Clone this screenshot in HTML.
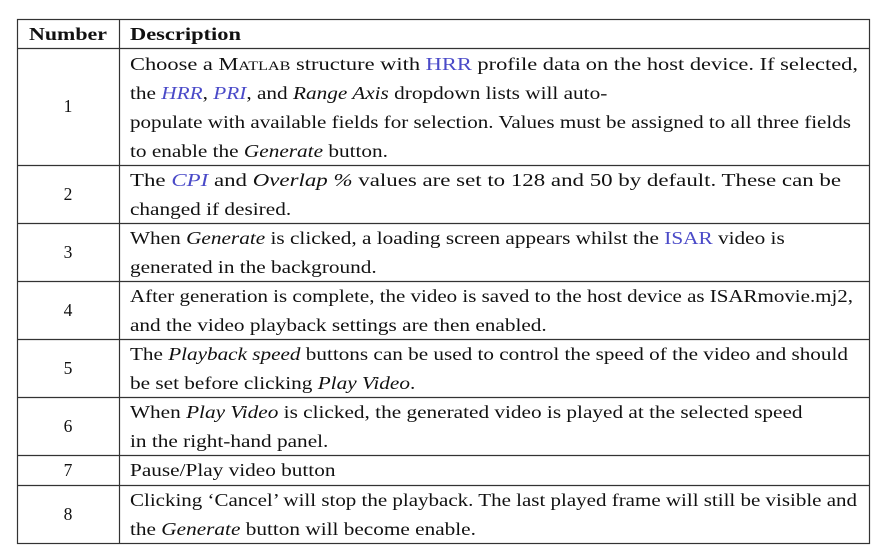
<!DOCTYPE html>
<html><head><meta charset="utf-8"><style>
html,body{margin:0;padding:0;background:#fff;}
svg{display:block}
text{font-family:"Liberation Serif",serif;font-size:17.5px;fill:#111;}
.i{font-style:italic}
.b{fill:#4a4ac8}
.sc{font-variant:small-caps}
</style></head><body>
<svg width="890" height="552" viewBox="0 0 890 552" xmlns="http://www.w3.org/2000/svg">
<g stroke="#333" stroke-width="1.2" fill="none">
<rect x="17.5" y="19.5" width="852" height="524"/>
<line x1="119.5" y1="19.5" x2="119.5" y2="543.5"/>
<line x1="17.5" y1="48.5" x2="869.5" y2="48.5"/>
<line x1="17.5" y1="165.5" x2="869.5" y2="165.5"/>
<line x1="17.5" y1="223.5" x2="869.5" y2="223.5"/>
<line x1="17.5" y1="281.5" x2="869.5" y2="281.5"/>
<line x1="17.5" y1="339.5" x2="869.5" y2="339.5"/>
<line x1="17.5" y1="397.5" x2="869.5" y2="397.5"/>
<line x1="17.5" y1="455.5" x2="869.5" y2="455.5"/>
<line x1="17.5" y1="485.5" x2="869.5" y2="485.5"/>
</g>
<text x="29" y="40" font-weight="bold" textLength="78" lengthAdjust="spacingAndGlyphs">Number</text>
<text x="130" y="40" font-weight="bold" textLength="111" lengthAdjust="spacingAndGlyphs">Description</text>

<g text-anchor="middle">
<text x="68" y="112">1</text>
<text x="68" y="200">2</text>
<text x="68" y="258">3</text>
<text x="68" y="316">4</text>
<text x="68" y="374">5</text>
<text x="68" y="432">6</text>
<text x="68" y="476">7</text>
<text x="68" y="520">8</text>
</g>

<g transform="scale(1.215,1)">
<text x="107" y="70" textLength="599.2" lengthAdjust="spacingAndGlyphs">Choose a <tspan class="sc">Matlab</tspan> structure with <tspan class="b">HRR</tspan> profile data on the host device. If selected,</text>
<text x="107" y="99">the <tspan class="i b">HRR</tspan>, <tspan class="i b">PRI</tspan>, and <tspan class="i">Range Axis</tspan> dropdown lists will auto-</text>
<text x="107" y="128" textLength="593.4" lengthAdjust="spacingAndGlyphs">populate with available fields for selection. Values must be assigned to all three fields</text>
<text x="107" y="157">to enable the <tspan class="i">Generate</tspan> button.</text>

<text x="107" y="186" textLength="585.2" lengthAdjust="spacingAndGlyphs">The <tspan class="i b">CPI</tspan> and <tspan class="i">Overlap %</tspan> values are set to 128 and 50 by default. These can be</text>
<text x="107" y="215">changed if desired.</text>

<text x="107" y="244">When <tspan class="i">Generate</tspan> is clicked, a loading screen appears whilst the <tspan class="b">ISAR</tspan> video is</text>
<text x="107" y="273">generated in the background.</text>

<text x="107" y="302" textLength="595.1" lengthAdjust="spacingAndGlyphs">After generation is complete, the video is saved to the host device as ISARmovie.mj2,</text>
<text x="107" y="331">and the video playback settings are then enabled.</text>

<text x="107" y="360" textLength="590.9" lengthAdjust="spacingAndGlyphs">The <tspan class="i">Playback speed</tspan> buttons can be used to control the speed of the video and should</text>
<text x="107" y="389">be set before clicking <tspan class="i">Play Video</tspan>.</text>

<text x="107" y="418">When <tspan class="i">Play Video</tspan> is clicked, the generated video is played at the selected speed</text>
<text x="107" y="447">in the right-hand panel.</text>

<text x="107" y="476">Pause/Play video button</text>

<text x="107" y="506" textLength="598.4" lengthAdjust="spacingAndGlyphs">Clicking ‘Cancel’ will stop the playback. The last played frame will still be visible and</text>
<text x="107" y="535">the <tspan class="i">Generate</tspan> button will become enable.</text>
</g>
</svg>
</body></html>
